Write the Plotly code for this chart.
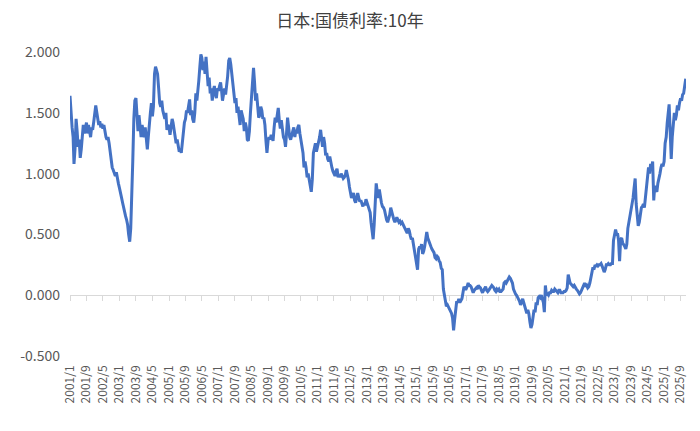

# Imports
import pandas as pd
import plotly.graph_objects as go

# 日本 10年期国债收益率，半月取值（每月1日、16日）
y2001 = [1.64, 1.48, 1.38, 1.30, 1.08, 1.20, 1.45, 1.35, 1.22, 1.28, 1.13, 1.20,
         1.30, 1.40, 1.33, 1.38, 1.42, 1.33, 1.40, 1.35, 1.30, 1.38, 1.36, 1.42]
y2002 = [1.48, 1.56, 1.50, 1.44, 1.40, 1.43, 1.38, 1.41, 1.37, 1.40, 1.33, 1.30,
         1.28, 1.30, 1.25, 1.18, 1.10, 1.05, 1.03, 1.00, 0.98, 1.01, 0.95, 0.92]
y2003 = [0.88, 0.85, 0.80, 0.76, 0.72, 0.68, 0.65, 0.62, 0.58, 0.50, 0.44, 0.55,
         0.95, 1.10, 1.45, 1.60, 1.62, 1.42, 1.35, 1.48, 1.38, 1.30, 1.40, 1.33]
y2004 = [1.30, 1.38, 1.25, 1.20, 1.30, 1.45, 1.50, 1.58, 1.47, 1.55, 1.82, 1.88,
         1.84, 1.82, 1.70, 1.58, 1.55, 1.60, 1.52, 1.48, 1.45, 1.50, 1.36, 1.40]
y2005 = [1.38, 1.32, 1.40, 1.45, 1.42, 1.36, 1.30, 1.25, 1.28, 1.22, 1.18, 1.20,
         1.17, 1.25, 1.35, 1.42, 1.45, 1.52, 1.50, 1.54, 1.61, 1.48, 1.52, 1.45]
y2006 = [1.42, 1.50, 1.66, 1.60, 1.72, 1.76, 1.88, 1.98, 1.95, 1.85, 1.92, 1.82,
         1.96, 1.80, 1.72, 1.79, 1.66, 1.70, 1.60, 1.68, 1.72, 1.65, 1.62, 1.70]
y2007 = [1.68, 1.72, 1.75, 1.68, 1.60, 1.65, 1.70, 1.65, 1.72, 1.80, 1.93, 1.95,
         1.90, 1.82, 1.74, 1.62, 1.58, 1.62, 1.50, 1.55, 1.45, 1.40, 1.52, 1.47]
y2008 = [1.45, 1.35, 1.42, 1.38, 1.28, 1.27, 1.35, 1.50, 1.62, 1.79, 1.87, 1.75,
         1.60, 1.66, 1.50, 1.46, 1.48, 1.55, 1.52, 1.45, 1.46, 1.40, 1.27, 1.17]
y2009 = [1.27, 1.30, 1.28, 1.32, 1.30, 1.27, 1.38, 1.46, 1.42, 1.48, 1.54, 1.44,
         1.37, 1.44, 1.35, 1.30, 1.28, 1.22, 1.33, 1.46, 1.38, 1.30, 1.28, 1.33]
y2010 = [1.35, 1.38, 1.30, 1.36, 1.33, 1.38, 1.40, 1.33, 1.28, 1.22, 1.17, 1.05,
         1.10, 1.05, 0.97, 1.00, 0.92, 0.90, 0.85, 0.95, 1.17, 1.20, 1.25, 1.18]
y2011 = [1.22, 1.25, 1.30, 1.36, 1.28, 1.22, 1.30, 1.25, 1.15, 1.17, 1.12, 1.10,
         1.14, 1.08, 1.05, 1.02, 1.00, 0.98, 1.02, 1.04, 0.97, 0.99, 0.97, 1.00]
y2012 = [0.98, 0.96, 0.97, 0.99, 1.03, 1.00, 0.95, 0.89, 0.85, 0.80, 0.82, 0.84,
         0.78, 0.76, 0.80, 0.84, 0.80, 0.77, 0.78, 0.76, 0.73, 0.76, 0.74, 0.79]
y2013 = [0.76, 0.74, 0.72, 0.68, 0.60, 0.52, 0.46, 0.58, 0.75, 0.92, 0.85, 0.80,
         0.87, 0.80, 0.76, 0.73, 0.72, 0.70, 0.64, 0.62, 0.60, 0.63, 0.66, 0.72]
y2014 = [0.68, 0.65, 0.62, 0.60, 0.62, 0.64, 0.62, 0.60, 0.61, 0.59, 0.60, 0.58,
         0.56, 0.54, 0.53, 0.51, 0.55, 0.53, 0.49, 0.46, 0.47, 0.42, 0.38, 0.32]
y2015 = [0.24, 0.21, 0.38, 0.40, 0.38, 0.42, 0.34, 0.36, 0.40, 0.45, 0.52, 0.47,
         0.44, 0.42, 0.40, 0.38, 0.36, 0.35, 0.31, 0.30, 0.32, 0.31, 0.28, 0.27]
y2016 = [0.22, 0.21, 0.05, -0.01, -0.05, -0.09, -0.08, -0.10, -0.11, -0.13, -0.15, -0.19,
         -0.29, -0.20, -0.09, -0.05, -0.06, -0.03, -0.06, -0.05, -0.03, 0.02, 0.07, 0.05]
y2017 = [0.05, 0.07, 0.10, 0.08, 0.08, 0.07, 0.03, 0.02, 0.04, 0.05, 0.06, 0.05,
         0.08, 0.07, 0.06, 0.04, 0.02, 0.04, 0.06, 0.07, 0.04, 0.03, 0.04, 0.05]
y2018 = [0.07, 0.08, 0.07, 0.06, 0.04, 0.03, 0.05, 0.04, 0.05, 0.03, 0.03, 0.04,
         0.05, 0.10, 0.11, 0.10, 0.12, 0.13, 0.15, 0.14, 0.12, 0.10, 0.05, 0.02]
y2019 = [0.01, 0.00, -0.02, -0.03, -0.05, -0.08, -0.05, -0.03, -0.06, -0.09, -0.13, -0.15,
         -0.12, -0.15, -0.22, -0.27, -0.24, -0.17, -0.12, -0.14, -0.06, -0.08, -0.02, -0.01]
y2020 = [-0.02, 0.00, -0.04, -0.06, -0.14, 0.08, 0.00, 0.01, 0.00, 0.02, 0.02, 0.04,
         0.03, 0.03, 0.05, 0.04, 0.03, 0.02, 0.04, 0.04, 0.02, 0.02, 0.02, 0.03]
y2021 = [0.03, 0.04, 0.06, 0.17, 0.12, 0.10, 0.09, 0.08, 0.07, 0.08, 0.06, 0.05,
         0.04, 0.02, 0.01, 0.02, 0.04, 0.06, 0.09, 0.10, 0.07, 0.08, 0.06, 0.07]
y2022 = [0.10, 0.15, 0.19, 0.23, 0.21, 0.24, 0.24, 0.25, 0.24, 0.25, 0.25, 0.26,
         0.24, 0.21, 0.19, 0.21, 0.25, 0.25, 0.26, 0.25, 0.25, 0.26, 0.26, 0.45]
y2023 = [0.50, 0.54, 0.50, 0.50, 0.45, 0.28, 0.46, 0.47, 0.43, 0.42, 0.40, 0.38,
         0.42, 0.55, 0.60, 0.65, 0.68, 0.72, 0.80, 0.88, 0.96, 0.75, 0.66, 0.57]
y2024 = [0.60, 0.68, 0.72, 0.73, 0.75, 0.72, 0.80, 0.88, 0.95, 1.05, 1.00, 1.08,
         1.05, 1.10, 0.78, 0.90, 0.87, 0.85, 0.92, 0.98, 1.00, 1.05, 1.08, 1.06]
y2025 = [1.10, 1.25, 1.30, 1.42, 1.50, 1.57, 1.34, 1.12, 1.30, 1.45, 1.50, 1.44,
         1.48, 1.56, 1.52, 1.58, 1.62, 1.60, 1.65, 1.66, 1.71, 1.78]

years = list(range(2001, 2026))
series_by_year = [y2001, y2002, y2003, y2004, y2005, y2006, y2007, y2008, y2009,
                  y2010, y2011, y2012, y2013, y2014, y2015, y2016, y2017, y2018,
                  y2019, y2020, y2021, y2022, y2023, y2024, y2025]

x_tick_labels = ["2001/1", "2001/9", "2002/5", "2003/1", "2003/9", "2004/5", "2005/1",
                 "2005/9", "2006/5", "2007/1", "2007/9", "2008/5", "2009/1", "2009/9",
                 "2010/5", "2011/1", "2011/9", "2012/5", "2013/1", "2013/9", "2014/5",
                 "2015/1", "2015/9", "2016/5", "2017/1", "2017/9", "2018/5", "2019/1",
                 "2019/9", "2020/5", "2021/1", "2021/9", "2022/5", "2023/1", "2023/9",
                 "2024/5", "2025/1", "2025/9"]
y_tick_vals = [-0.5, 0.0, 0.5, 1.0, 1.5, 2.0]
y_tick_labels = ["-0.500", "0.000", "0.500", "1.000", "1.500", "2.000"]

# build the date / value columns
dates, values = [], []
for yr, vals in zip(years, series_by_year):
    for i, v in enumerate(vals):
        dates.append(pd.Timestamp(yr, i // 2 + 1, 1 if i % 2 == 0 else 16))
        values.append(v)
df = pd.DataFrame({"date": dates, "yield": values})

tick_dates = [pd.Timestamp(lbl + "/1") for lbl in x_tick_labels]

FONT = "Noto Sans CJK SC"
GREY = "#595959"
AXIS = "#d9d9d9"

fig = go.Figure()
fig.add_trace(go.Scatter(x=df["date"], y=df["yield"], mode="lines",
                         line=dict(color="#4472C4", width=3), showlegend=False))
# invisible helper so the zero axis (x2) gets drawn
fig.add_trace(go.Scatter(x=df["date"][:1], y=df["yield"][:1], xaxis="x2",
                         mode="lines", opacity=0, showlegend=False, hoverinfo="skip"))

x_range = [pd.Timestamp(2001, 1, 1), pd.Timestamp(2025, 11, 20)]

# page body has an 8px margin, so margins are shifted by 8px
fig.update_layout(
    width=700, height=431,
    margin=dict(l=54, r=22, t=44, b=83),
    paper_bgcolor="white", plot_bgcolor="white",
    font=dict(family=FONT, color=GREY),
    title=dict(text="日本:国债利率:10年", xref="container", x=342 / 700,
               xanchor="center", yref="container", y=1 - 13 / 431, yanchor="middle",
               font=dict(family=FONT, size=17, color="#404040")),
    xaxis=dict(type="date", range=x_range, tickvals=tick_dates, ticktext=x_tick_labels,
               tickangle=-90, tickfont=dict(size=12, color=GREY), showgrid=False,
               showline=False, ticks="", zeroline=False, ticklabelstandoff=6),
    xaxis2=dict(type="date", overlaying="x", matches="x", anchor="free",
                position=0.5 / 2.5, showline=True, linecolor=AXIS, linewidth=1,
                ticks="outside", ticklen=5, tickcolor=AXIS, tickvals=tick_dates,
                showticklabels=False, showgrid=False, zeroline=False,
                layer="below traces"),
    yaxis=dict(range=[-0.5, 2.0], tickvals=y_tick_vals, ticktext=y_tick_labels,
               tickfont=dict(size=14, color=GREY), showgrid=False, zeroline=False,
               showline=False, ticklabelstandoff=9),
)

fig.write_html("out.html")
